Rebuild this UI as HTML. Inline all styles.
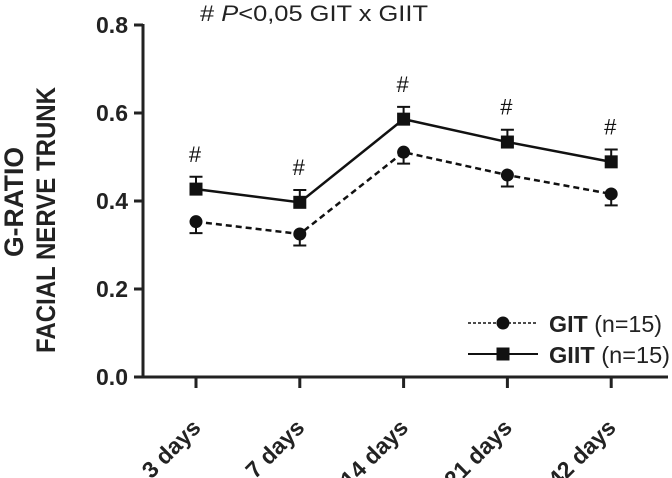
<!DOCTYPE html>
<html><head><meta charset="utf-8"><style>
body{margin:0;background:#fff;}
svg{display:block;font-family:"Liberation Sans",Arial,sans-serif;}
</style></head><body>
<svg id="chart" width="672" height="478" viewBox="0 0 672 478"></svg>
<script>
const categories = ["3 days","7 days","14 days","21 days","42 days"];
const gitValues = [0.353,0.325,0.511,0.459,0.416];
const gitErr = [0.026,0.026,0.026,0.026,0.026];
const giitValues = [0.427,0.397,0.586,0.534,0.489];
const giitErr = [0.028,0.028,0.028,0.028,0.028];
const sigMarks = ["#","#","#","#","#"];
const yTicks = [0.0,0.2,0.4,0.6,0.8];
const yTickLabels = ["0.0","0.2","0.4","0.6","0.8"];

const NS="http://www.w3.org/2000/svg";
const svg=document.getElementById('chart');
const x0=143,y0=377,yTop=25,xFirst=196,xStep=103.8,xEnd=668;
const yScale=v=>y0-(v/0.8)*(y0-yTop);
const xScale=i=>xFirst+i*xStep;
function mk(tag,attrs,parent){const e=document.createElementNS(NS,tag);for(const k in attrs)e.setAttribute(k,attrs[k]);(parent||svg).appendChild(e);return e;}

let e;
e=mk('line',{x1:x0,y1:yTop-1,x2:x0,y2:y0+1.5,stroke:'#222','stroke-width':3});


e=mk('line',{x1:x0-1.5,y1:y0,x2:xEnd,y2:y0,stroke:'#222','stroke-width':3});



yTicks.forEach((v,i)=>{
  const y=yScale(v);
  let t=mk('line',{x1:x0-9,y1:y,x2:x0,y2:y,stroke:'#222','stroke-width':3});
  
  
  t=mk('text',{x:x0-15,y:y+8,'text-anchor':'end','font-size':23,'font-weight':'bold',fill:'#222'});
  t.textContent=yTickLabels[i];
  
  
});

categories.forEach((c,i)=>{
  const x=xScale(i);
  let t=mk('line',{x1:x,y1:y0,x2:x,y2:y0+11,stroke:'#222','stroke-width':3});
  
  
  t=mk('text',{x:x+6,y:y0+52,'text-anchor':'end','font-size':23,'font-weight':'bold',fill:'#222',transform:`rotate(-45 ${x+6} ${y0+52})`});
  t.textContent=c;
  
  
});

function series(vals,errs,dash,marker,name,errDown){
  const pts=vals.map((v,i)=>[xScale(i),yScale(v)]);
  let p=mk('polyline',{points:pts.map(p=>p.join(',')).join(' '),fill:'none',stroke:'#111','stroke-width':2.5,'stroke-dasharray':dash||'none'});
  
  
  vals.forEach((v,i)=>{
    const x=xScale(i),y=yScale(v),ye=yScale(errDown?v-errs[i]:v+errs[i]);
    let b=mk('path',{d:`M${x},${y}L${x},${ye}M${x-6.5},${ye}L${x+6.5},${ye}`,stroke:'#111','stroke-width':2,fill:'none'});
    
    
    let m;
    if(marker==='circle') m=mk('circle',{cx:x,cy:y,r:6.5,fill:'#111'});
    else m=mk('rect',{x:x-6.5,y:y-6.5,width:13,height:13,fill:'#111'});
    
    
  });
}
series(gitValues,gitErr,'6,4','circle','git',true);
series(giitValues,giitErr,null,'square','giit',false);

sigMarks.forEach((s,i)=>{
  let t=mk('text',{x:xScale(i)-1,y:yScale(giitValues[i]+giitErr[i])-15,'text-anchor':'middle','font-size':22,fill:'#111'});
  t.textContent=s;
  
  
});

let t=mk('text',{x:200,y:21,'font-size':22,fill:'#222',textLength:228,lengthAdjust:'spacingAndGlyphs'});
t.innerHTML='# <tspan font-style="italic">P</tspan>&lt;0,05 GIT x GIIT';



t=mk('text',{'font-size':27,'font-weight':'bold',fill:'#222','text-anchor':'middle',transform:'translate(23,202) rotate(-90)',textLength:110,lengthAdjust:'spacingAndGlyphs'});
t.textContent='G-RATIO';


t=mk('text',{'font-size':27,'font-weight':'bold',fill:'#222','text-anchor':'middle',transform:'translate(55,220) rotate(-90)',textLength:266,lengthAdjust:'spacingAndGlyphs'});
t.textContent='FACIAL NERVE TRUNK';



// legend
const lg=mk('g',{});


mk('line',{x1:468,y1:323,x2:538,y2:323,stroke:'#111','stroke-width':1.5,'stroke-dasharray':'3,2'},lg);
mk('circle',{cx:503,cy:323,r:6.5,fill:'#111'},lg);
t=mk('text',{x:549,y:332,'font-size':23,fill:'#222',textLength:113,lengthAdjust:'spacingAndGlyphs'},lg);
t.innerHTML='<tspan font-weight="bold">GIT</tspan> (n=15)';


mk('line',{x1:468,y1:354,x2:538,y2:354,stroke:'#111','stroke-width':2},lg);
mk('rect',{x:496.5,y:347.5,width:13,height:13,fill:'#111'},lg);
t=mk('text',{x:549,y:363,'font-size':23,fill:'#222',textLength:121,lengthAdjust:'spacingAndGlyphs'},lg);
t.innerHTML='<tspan font-weight="bold">GIIT</tspan> (n=15)';


</script>
</body></html>
